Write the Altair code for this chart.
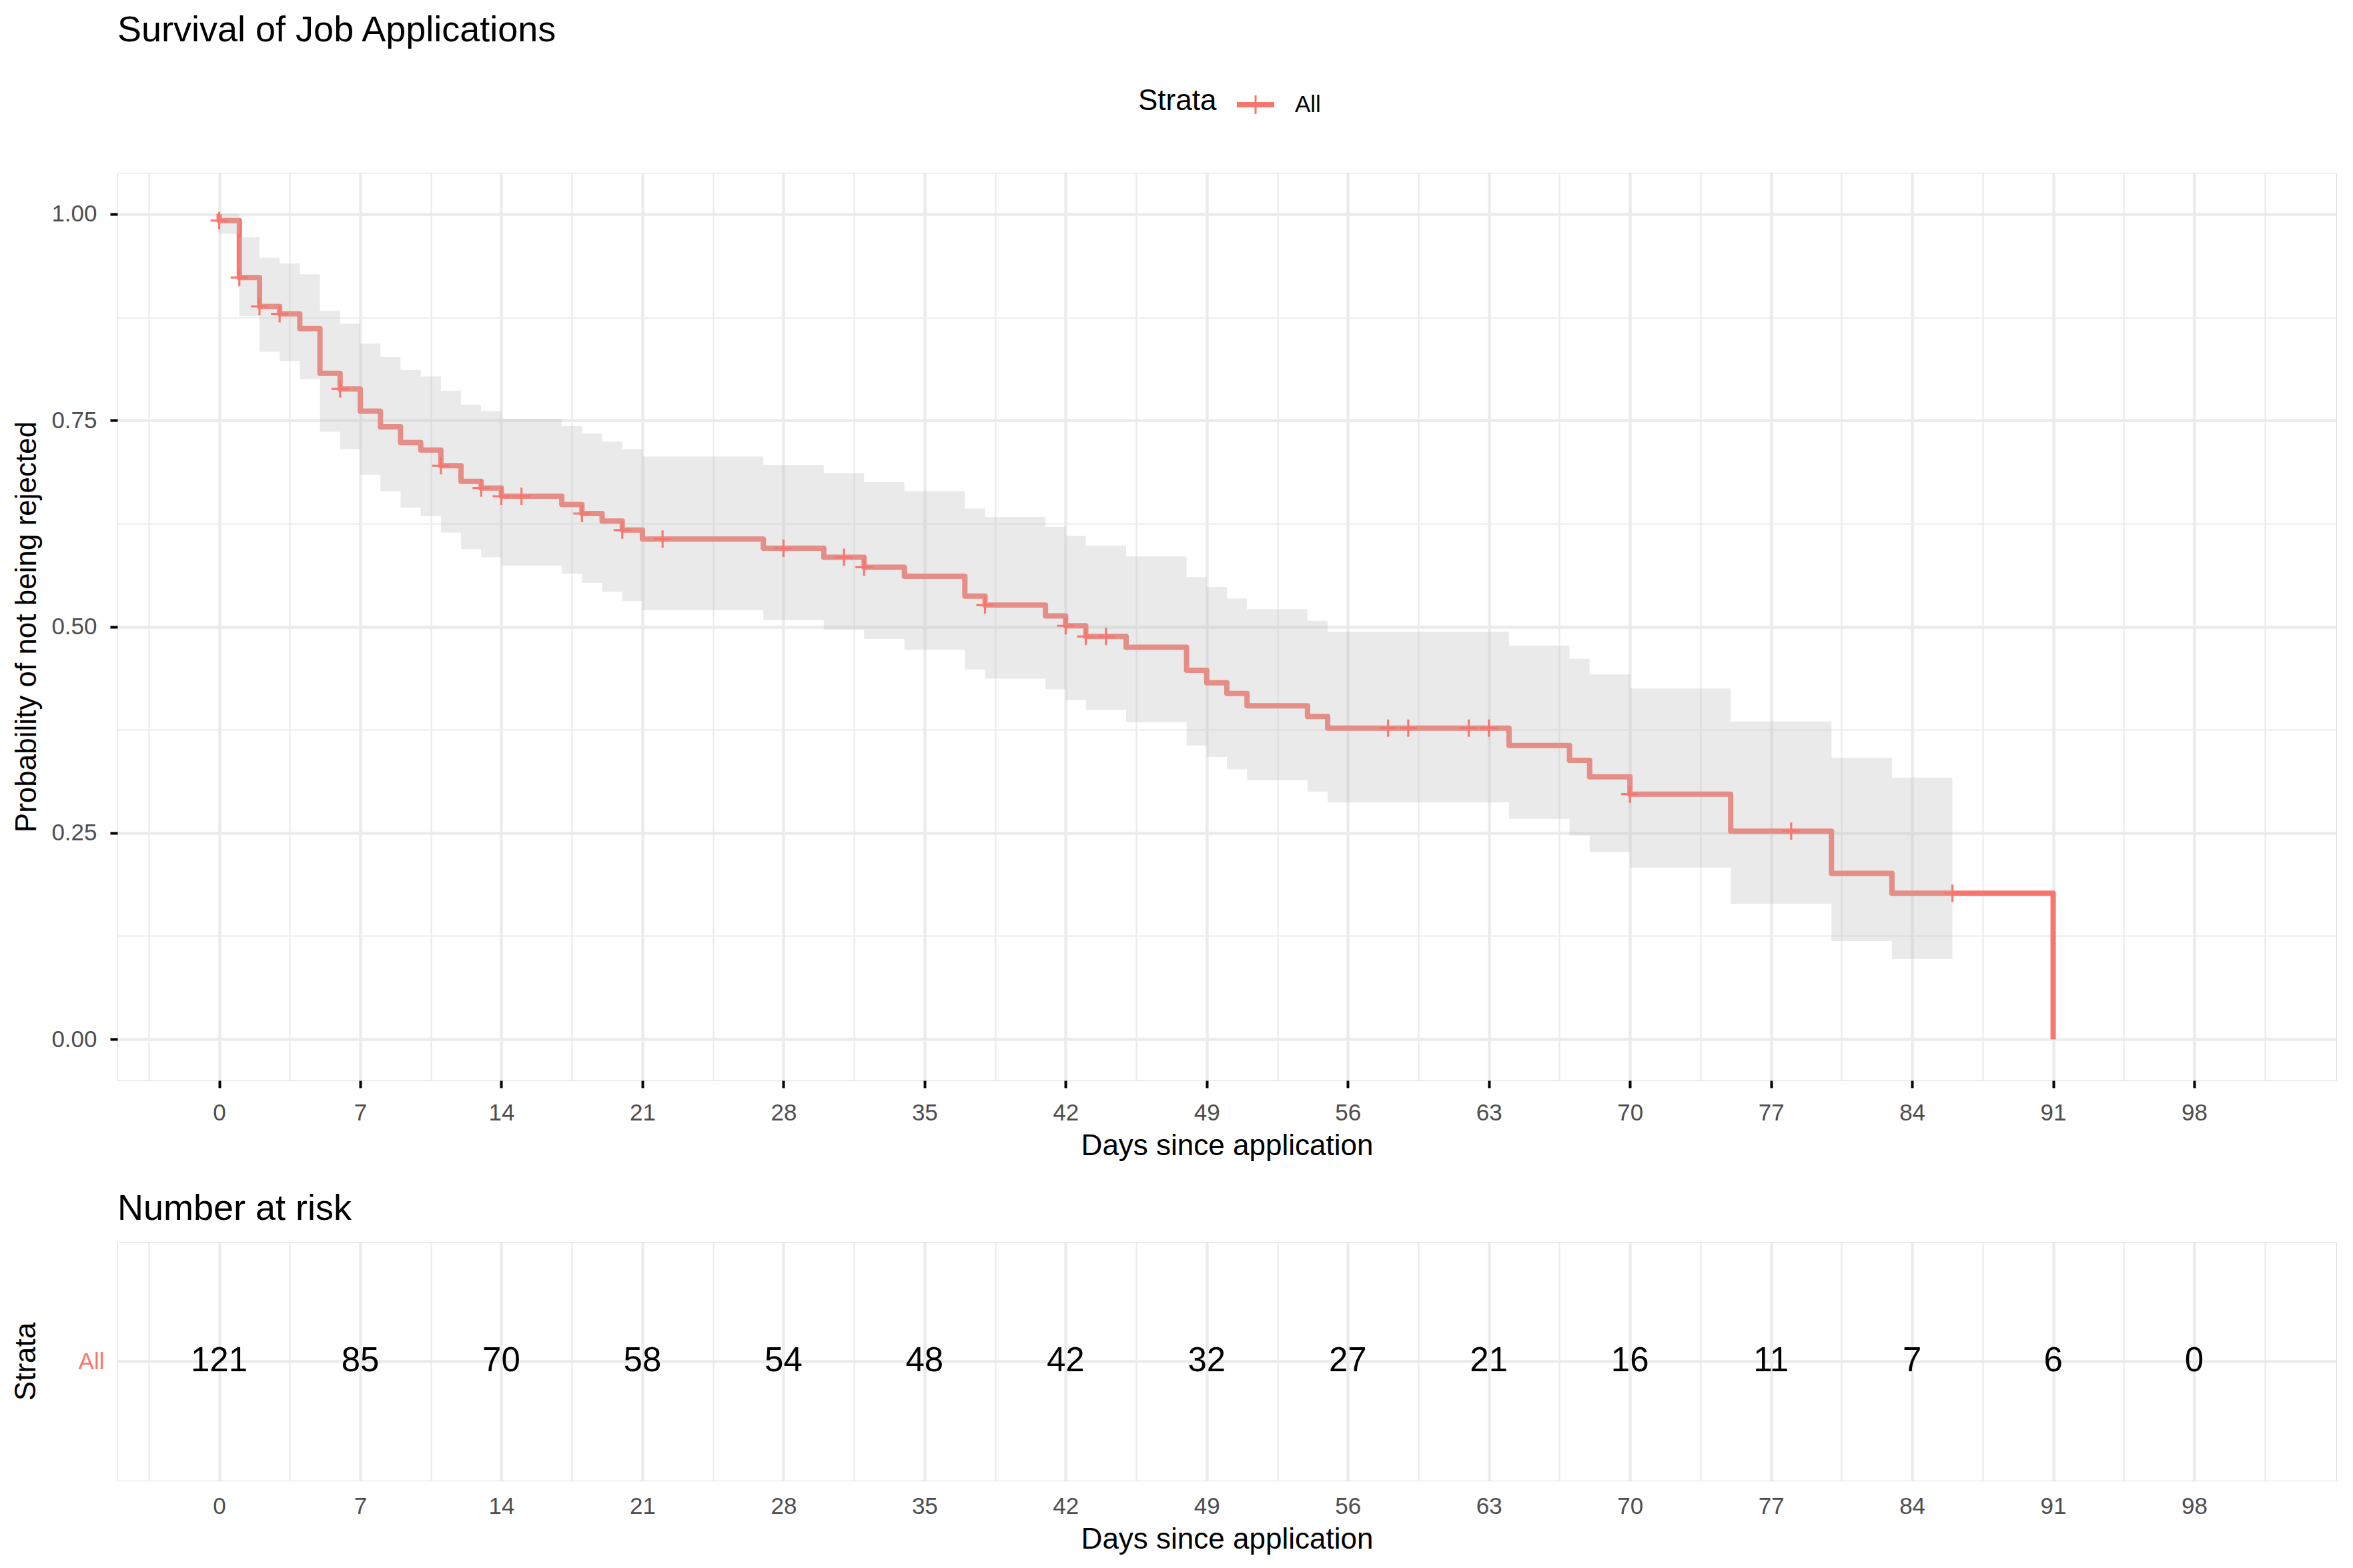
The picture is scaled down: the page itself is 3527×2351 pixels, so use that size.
import altair as alt
import pandas as pd

FONT = "Liberation Sans"
STRATA_COLOR = "#F8766D"

# Kaplan-Meier step curve: time (days) and survival probability after the step
km_time = [0, 0, 1, 2, 3, 4, 5, 6, 7, 8, 9, 10, 11, 12, 13, 14, 17, 18, 19, 20, 21,
           27, 30, 32, 34, 37, 38, 41, 42, 43, 45, 48, 49, 50, 51, 54, 55, 64, 67, 68,
           70, 75, 80, 83, 91]
km_surv = [1.0, 0.992, 0.923, 0.888, 0.879, 0.861, 0.807, 0.788, 0.761, 0.742, 0.723,
           0.714, 0.695, 0.676, 0.668, 0.658, 0.648, 0.637, 0.628, 0.617, 0.606,
           0.595, 0.584, 0.572, 0.561, 0.537, 0.526, 0.513, 0.501, 0.488, 0.475,
           0.447, 0.432, 0.419, 0.404, 0.391, 0.377, 0.356, 0.338, 0.318,
           0.297, 0.252, 0.201, 0.177, 0.0]

# 95% confidence band (step-after), ends at the last censoring time (86)
ci_time = [0, 1, 2, 3, 4, 5, 6, 7, 8, 9, 10, 11, 12, 13, 14, 17, 18, 19, 20, 21,
           27, 30, 32, 34, 37, 38, 41, 42, 43, 45, 48, 49, 50, 51, 54, 55, 64, 67, 68,
           70, 75, 80, 83, 86]
ci_upper = [1.000, 0.972, 0.947, 0.940, 0.927, 0.883, 0.867, 0.843, 0.827, 0.811,
            0.803, 0.786, 0.769, 0.761, 0.752, 0.743, 0.734, 0.724, 0.715, 0.706,
            0.696, 0.686, 0.675, 0.664, 0.643, 0.633, 0.621, 0.610, 0.598, 0.585,
            0.560, 0.548, 0.534, 0.521, 0.507, 0.494, 0.477, 0.461, 0.442,
            0.425, 0.385, 0.341, 0.317, 0.317]
ci_lower = [0.976, 0.876, 0.833, 0.822, 0.800, 0.736, 0.715, 0.684, 0.664, 0.644,
            0.634, 0.614, 0.594, 0.584, 0.574, 0.564, 0.553, 0.542, 0.531, 0.520,
            0.508, 0.496, 0.485, 0.472, 0.448, 0.437, 0.424, 0.411, 0.399, 0.384,
            0.356, 0.342, 0.327, 0.314, 0.300, 0.287, 0.267, 0.247, 0.227,
            0.208, 0.164, 0.119, 0.097, 0.097]

# censoring times (marked with +)
censor_time = [0, 1, 2, 3, 6, 11, 13, 14, 15, 18, 20, 22, 28, 31, 32, 38, 42, 43, 44,
               58, 59, 62, 63, 70, 78, 86]

# number at risk table
risk_time = [0, 7, 14, 21, 28, 35, 42, 49, 56, 63, 70, 77, 84, 91, 98]
risk_n = [121, 85, 70, 58, 54, 48, 42, 32, 27, 21, 16, 11, 7, 6, 0]

strata = "All"

# ---------------------------------------------------------------- data frames
df_line = pd.DataFrame({"t": km_time, "surv": km_surv, "idx": range(len(km_time))})
df_ci = pd.DataFrame({"t": ci_time, "upper": ci_upper, "lower": ci_lower})


def surv_at(t):
    s = km_surv[0]
    for tt, ss in zip(km_time, km_surv):
        if tt <= t:
            s = ss
    return s


df_cens = pd.DataFrame({"t": censor_time,
                        "surv": [surv_at(t) for t in censor_time],
                        "strata": [strata] * len(censor_time)})
df_risk = pd.DataFrame({"t": risk_time, "n": risk_n, "strata": [strata] * len(risk_time)})

# ---------------------------------------------------------------- scales / axes
W = 3326
H1 = 1361
H2 = 358

xs = alt.Scale(domain=[-5.05, 105.05], nice=False, zero=False)
ys = alt.Scale(domain=[-0.05, 1.05], nice=False, zero=False)

x_vals = [-3.5 + 3.5 * i for i in range(31)]
y_vals = [0, 0.125, 0.25, 0.375, 0.5, 0.625, 0.75, 0.875, 1.0]
minor_x = "datum.value % 7 != 0"
minor_y = "(datum.value * 4) % 1 != 0"

common_axis = dict(
    grid=True, gridColor="#EBEBEB", domain=False,
    labelFont=FONT, labelFontSize=35, labelColor="#4D4D4D", labelOverlap=False,
    labelFlush=False,
    titleFont=FONT, titleFontSize=44, titleColor="#000000", titleFontWeight="normal",
)

x_axis_main = alt.Axis(
    values=x_vals, format="d",
    labelExpr="datum.value % 7 == 0 ? datum.label : ''",
    gridWidth={"condition": {"test": minor_x, "value": 2.2}, "value": 4.3},
    tickColor="#000000", tickWidth=4, tickSize=11,
    tickOpacity={"condition": {"test": minor_x, "value": 0}, "value": 1},
    labelPadding=20, titlePadding=10, **common_axis)

y_axis_main = alt.Axis(
    values=y_vals, format=".2f",
    labelExpr="(datum.value * 4) % 1 == 0 ? datum.label : ''",
    gridWidth={"condition": {"test": minor_y, "value": 2.2}, "value": 4.3},
    tickColor="#000000", tickWidth=4, tickSize=11,
    tickOpacity={"condition": {"test": minor_y, "value": 0}, "value": 1},
    labelPadding=20, titlePadding=14, **common_axis)

x_axis_risk = alt.Axis(
    values=x_vals, format="d",
    labelExpr="datum.value % 7 == 0 ? datum.label : ''",
    gridWidth={"condition": {"test": minor_x, "value": 2.2}, "value": 4.3},
    ticks=False, tickSize=0,
    labelPadding=21, titlePadding=10, **common_axis)

y_axis_risk = alt.Axis(
    gridWidth=4.3, ticks=False, tickSize=0,
    labelPadding=20, titlePadding=56,
    **{**common_axis, "labelColor": STRATA_COLOR})

X_TITLE = "Days since application"
Y_TITLE = "Probability of not being rejected"

plus_path = "M-1,-0.12H-0.12V-1H0.12V-0.12H1V0.12H0.12V1H-0.12V0.12H-1Z"
legend_path = "M-1,-0.143H-0.054V-0.5H0.054V-0.143H1V0.143H0.054V0.5H-0.054V0.143H-1Z"

line = alt.Chart(df_line).mark_line(
    interpolate="step-after", color=STRATA_COLOR, strokeWidth=8,
    strokeJoin="round", strokeCap="butt"
).encode(
    x=alt.X("t:Q", scale=xs, axis=x_axis_main, title=X_TITLE),
    y=alt.Y("surv:Q", scale=ys, axis=y_axis_main, title=Y_TITLE),
    order=alt.Order("idx:Q"),
)

band = alt.Chart(df_ci).mark_area(
    interpolate="step-after", color="#BEBEBE", opacity=0.32
).encode(
    x=alt.X("t:Q", scale=xs, axis=x_axis_main, title=X_TITLE),
    y=alt.Y("upper:Q", scale=ys, axis=y_axis_main, title=Y_TITLE),
    y2="lower:Q",
)

censor = alt.Chart(df_cens).mark_point(
    shape=plus_path, size=676, filled=True, opacity=1, strokeWidth=0
).encode(
    x=alt.X("t:Q", scale=xs, axis=x_axis_main, title=X_TITLE),
    y=alt.Y("surv:Q", scale=ys, axis=y_axis_main, title=Y_TITLE),
    color=alt.Color(
        "strata:N",
        scale=alt.Scale(domain=[strata], range=[STRATA_COLOR]),
        legend=alt.Legend(
            title="Strata", orient="none", legendX=1530, legendY=-130,
            direction="horizontal", titleOrient="left",
            titleFont=FONT, titleFontSize=44, titleFontWeight="normal",
            titleColor="#000000", titleBaseline="middle", titlePadding=30,
            labelFont=FONT, labelFontSize=35, labelColor="#000000", labelOffset=31,
            symbolType=legend_path, symbolSize=3136, symbolStrokeWidth=0,
            symbolFillColor=STRATA_COLOR,
        ),
    ),
)

top = alt.layer(line, band, censor).properties(
    width=W, height=H1,
    title=alt.Title("Survival of Job Applications", anchor="start", frame="group",
                    font=FONT, fontSize=54, fontWeight="normal", color="#000000",
                    offset=186),
)

risk = alt.Chart(df_risk).mark_text(
    font=FONT, fontSize=51, color="#000000"
).encode(
    x=alt.X("t:Q", scale=xs, axis=x_axis_risk, title=X_TITLE),
    y=alt.Y("strata:N", axis=y_axis_risk, title="Strata"),
    text="n:Q",
).properties(
    width=W, height=H2,
    title=alt.Title("Number at risk", anchor="start", frame="group",
                    font=FONT, fontSize=54, fontWeight="normal", color="#000000",
                    offset=22),
)

chart = alt.vconcat(top, risk, spacing=44).properties(
    padding={"left": 8, "top": 10, "right": 0, "bottom": 0}
).configure_view(stroke=None).configure(font=FONT)

chart.save("out.html", embed_options={"renderer": "svg", "actions": False})
